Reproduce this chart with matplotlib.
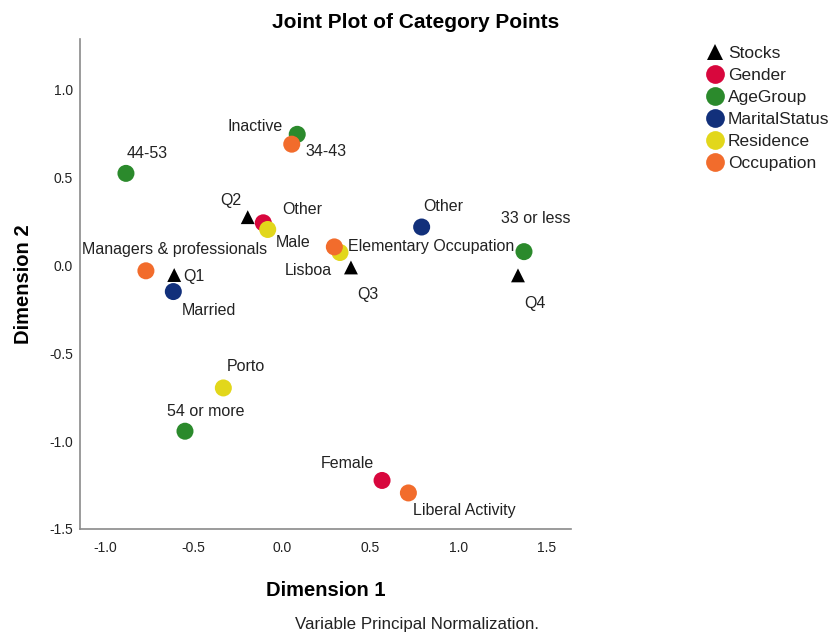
import matplotlib
matplotlib.use("Agg")
import matplotlib.pyplot as plt
from matplotlib.lines import Line2D

plt.rcParams['font.family'] = ['Liberation Sans', 'DejaVu Sans']

# ---- data ----
groups = ["Stocks", "Gender", "AgeGroup", "MaritalStatus", "Residence", "Occupation"]
group_colors = ["#000000", "#D8073D", "#2B8A2C", "#12307B", "#E2D71B", "#F26C2C"]

stocks_labels = ["Q1", "Q2", "Q3", "Q4"]
stocks_x = [-0.608, -0.192, 0.392, 1.337]
stocks_y = [-0.056, 0.273, -0.013, -0.058]

gender_labels = ["Male", "Female"]
gender_x = [-0.104, 0.568]
gender_y = [0.241, -1.224]

age_labels = ["33 or less", "34-43", "44-53", "54 or more"]
age_x = [1.371, 0.088, -0.881, -0.547]
age_y = [0.077, 0.744, 0.522, -0.944]

marital_labels = ["Married", "Other"]
marital_x = [-0.613, 0.792]
marital_y = [-0.150, 0.217]

residence_labels = ["Lisboa", "Porto", "Other"]
residence_x = [0.330, -0.330, -0.079]
residence_y = [0.072, -0.698, 0.203]

occupation_labels = ["Managers & professionals", "Elementary Occupation", "Inactive", "Liberal Activity"]
occupation_x = [-0.768, 0.298, 0.057, 0.717]
occupation_y = [-0.032, 0.104, 0.688, -1.295]

x_ticks = [-1.0, -0.5, 0.0, 0.5, 1.0, 1.5]
y_ticks = [-1.5, -1.0, -0.5, 0.0, 0.5, 1.0]

# label offsets in pixels (dx, dy, ha)
offsets = {
    ("Stocks", "Q1"): (9, -1, "left"),
    ("Stocks", "Q2"): (-17, 17, "center"),
    ("Stocks", "Q3"): (17, -27, "center"),
    ("Stocks", "Q4"): (17, -28, "center"),
    ("Gender", "Male"): (12, -20, "left"),
    ("Gender", "Female"): (-8, 17, "right"),
    ("AgeGroup", "33 or less"): (12, 33, "center"),
    ("AgeGroup", "34-43"): (8, -17, "left"),
    ("AgeGroup", "44-53"): (1, 20, "left"),
    ("AgeGroup", "54 or more"): (-18, 20, "left"),
    ("MaritalStatus", "Married"): (8, -19, "left"),
    ("MaritalStatus", "Other"): (22, 21, "center"),
    ("Residence", "Lisboa"): (-8, -18, "right"),
    ("Residence", "Porto"): (3, 21, "left"),
    ("Residence", "Other"): (15, 20, "left"),
    ("Occupation", "Managers & professionals"): (29, 21, "center"),
    ("Occupation", "Elementary Occupation"): (14, 0, "left"),
    ("Occupation", "Inactive"): (-9, 18, "right"),
    ("Occupation", "Liberal Activity"): (5, -18, "left"),
}

fig = plt.figure(figsize=(8.32, 6.34), dpi=100)
ax = fig.add_axes([80 / 832, 1 - 529 / 634, (571 - 80) / 832, (529 - 39) / 634])

series = [
    ("Stocks", stocks_labels, stocks_x, stocks_y, "^", 100),
    ("Gender", gender_labels, gender_x, gender_y, "o", 150),
    ("AgeGroup", age_labels, age_x, age_y, "o", 150),
    ("MaritalStatus", marital_labels, marital_x, marital_y, "o", 150),
    ("Residence", residence_labels, residence_x, residence_y, "o", 150),
    ("Occupation", occupation_labels, occupation_x, occupation_y, "o", 150),
]

for (name, labs, xs, ys, mk, sz), col in zip(series, group_colors):
    ax.scatter(xs, ys, marker=mk, s=sz, color=col, edgecolors="none", zorder=3)
    for lab, x, y in zip(labs, xs, ys):
        dx, dy, ha = offsets[(name, lab)]
        ax.annotate(lab, (x, y), xytext=(dx, dy), textcoords="offset pixels",
                    ha=ha, va="center", fontsize=11.5, color="#222222", zorder=4)

ax.set_xlim(-1.141, 1.637)
ax.set_ylim(-1.482, 1.286)
ax.set_xticks(x_ticks)
ax.set_yticks(y_ticks)
ax.set_xticklabels([f"{v:.1f}" for v in x_ticks])
ax.set_yticklabels([f"{v:.1f}" for v in y_ticks])
ax.tick_params(length=0, labelsize=10, labelcolor="#222222")
ax.tick_params(axis="x", pad=9)
ax.tick_params(axis="y", pad=5)
for s in ["top", "right"]:
    ax.spines[s].set_visible(False)
for s in ["left", "bottom"]:
    ax.spines[s].set_color("#8a8a8a")
    ax.spines[s].set_linewidth(1.2)

ax.set_xlabel("Dimension 1", fontsize=14.5, fontweight="bold", labelpad=18)
ax.set_ylabel("Dimension 2", fontsize=14.5, fontweight="bold", labelpad=12)

fig.text(0.5, 1 - 22 / 634, "Joint Plot of Category Points", ha="center", va="center",
         fontsize=15, fontweight="bold")
fig.text(417 / 832, 1 - 624 / 634, "Variable Principal Normalization.", ha="center",
         va="center", fontsize=12.2, color="#222222")

handles = []
for (name, labs, xs, ys, mk, sz), col in zip(series, group_colors):
    handles.append(Line2D([], [], linestyle="none", marker=mk, color=col,
                          markersize=12 if mk == "^" else 13.5, markeredgewidth=0))
fig.legend(handles, groups, loc="upper left", bbox_to_anchor=(706 / 832, 1 - 45.5 / 634),
           frameon=False, fontsize=12.5, handlelength=1.0, handletextpad=0.25,
           labelspacing=0.40, borderpad=0, borderaxespad=0, labelcolor="#222222")

fig.savefig("out.png", dpi=100)
